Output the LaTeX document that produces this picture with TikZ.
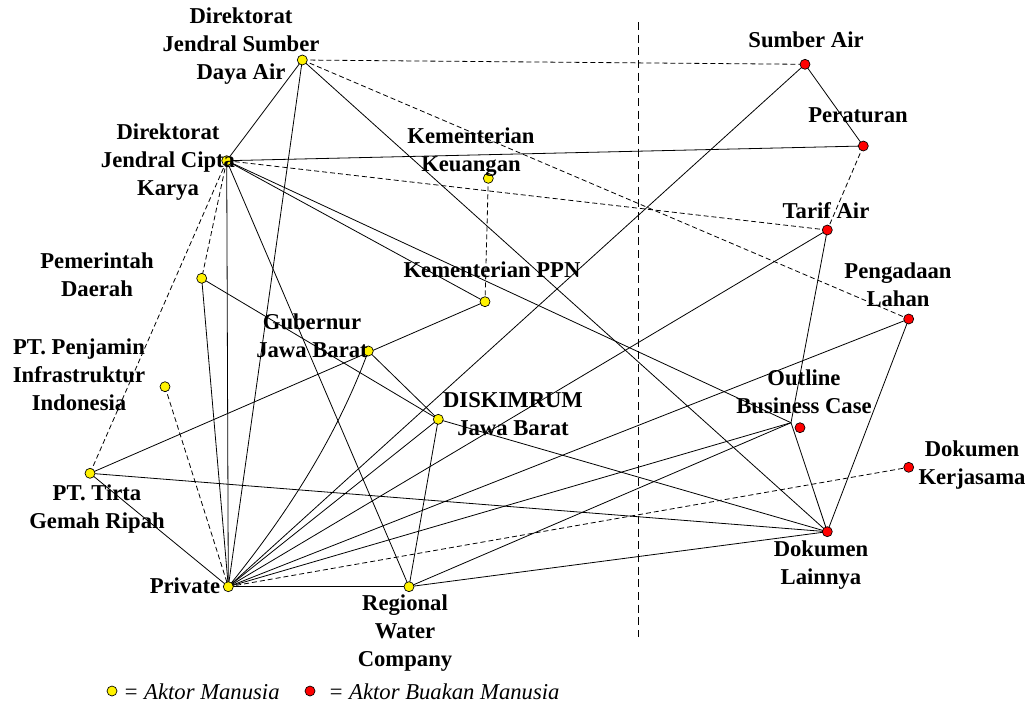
\documentclass[tikz,border=0pt]{standalone}
\usepackage{fontspec}
\setmainfont{Liberation Serif}
\usetikzlibrary{backgrounds}
\begin{document}
\begin{tikzpicture}[x=0.75pt,y=-0.75pt,
  every node/.style={inner sep=0pt},
  lbl/.style={font=\fontsize{17}{21}\selectfont\bfseries, align=center},
  hum/.style={circle, draw=black, line width=0.5pt, fill=yellow, minimum size=7.5pt},
  nonhum/.style={circle, draw=black, line width=0.5pt, fill=red, minimum size=7.5pt},
  link/.style={draw=black, line width=0.6pt},
  weak/.style={link, dash pattern=on 3.75pt off 2.25pt},
  divider/.style={draw=black, line width=0.6pt, dash pattern=on 6pt off 3.5pt},
  legend/.style={font=\fontsize{17}{21}\selectfont\itshape, anchor=west}
]
\useasboundingbox (0,0) rectangle (1030,704);

% human actors
\node[hum] (djsda) at (302.3,60) {};
\node[hum] (djck) at (226.7,160.7) {};
\node[hum] (keu) at (488.3,178.3) {};
\node[hum] (ppn) at (485,301.7) {};
\node[hum] (pemda) at (201.7,278.3) {};
\node[hum] (ptpii) at (165,386.7) {};
\node[hum] (tirta) at (90,473.3) {};
\node[hum] (gub) at (368.3,351) {};
\node[hum] (disk) at (438.3,419.3) {};
\node[hum] (prv) at (228.3,586.7) {};
\node[hum] (rwc) at (409,586.7) {};
% non-human actors
\node[nonhum] (smb) at (805,64.3) {};
\node[nonhum] (prt) at (863.3,146) {};
\node[nonhum] (trf) at (827.3,230) {};
\node[nonhum] (pgl) at (908.7,319) {};
\node[nonhum] (obc) at (800,427.7) {};
\coordinate (obcj) at (791,422.7);
\node[nonhum] (dk) at (908.7,467.3) {};
\node[nonhum] (dl) at (827.3,531.7) {};

% labels
\node[lbl] (l-djsda) at (241,46) {Direktorat\\Jendral Sumber\\Daya Air};
\node[lbl] (l-djck) at (168,162) {Direktorat\\Jendral Cipta\\Karya};
\node[lbl] (l-keu) at (471,152) {Kementerian\\Keuangan};
\node[lbl] (l-pemda) at (97,275) {Pemerintah\\Daerah};
\node[lbl] (l-ptpii) at (79,375) {PT. Penjamin\\Infrastruktur\\Indonesia};
\node[lbl] (l-ppn) at (492,270) {Kementerian PPN};
\node[lbl] (l-gub) at (312,336) {Gubernur\\Jawa Barat};
\node[lbl] (l-disk) at (513,414) {DISKIMRUM\\Jawa Barat};
\node[lbl] (l-tirta) at (97,509) {PT. Tirta\\Gemah Ripah};
\node[lbl] (l-prv) at (185,586) {Private};
\node[lbl] (l-rwc) at (405,633) {Regional\\Water\\Company};
\node[lbl] (l-smb) at (806,40) {Sumber Air};
\node[lbl] (l-prt) at (858,115) {Peraturan};
\node[lbl] (l-trf) at (826,211) {Tarif Air};
\node[lbl] (l-pgl) at (898,285) {Pengadaan\\Lahan};
\node[lbl] (l-obc) at (804,392) {Outline\\Business Case};
\node[lbl] (l-dk) at (972,465) {Dokumen\\Kerjasama};
\node[lbl] (l-dl) at (821,565) {Dokumen\\Lainnya};

% divider
\coordinate (divtop) at (638.3,22);
\coordinate (divbot) at (638.3,637);

% legend
\node[hum] (lg-h) at (112,691) {};
\node[legend] (lg-ht) at (123,692) {= Aktor Manusia};
\node[nonhum] (lg-n) at (310,691) {};
\node[legend] (lg-nt) at (328,692) {= Aktor Buakan Manusia};

\begin{pgfonlayer}{background}
\draw[divider] (divtop) -- (divbot);
\draw[weak] (djsda.center) -- (smb.center);
\draw[weak] (djsda.center) -- (pgl.center);
\draw[link] (djsda.center) -- (djck.center);
\draw[link] (djsda.center) -- (prv.center);
\draw[link] (djsda.center) -- (dl.center);
\draw[link] (djck.center) -- (prt.center);
\draw[weak] (djck.center) -- (trf.center);
\draw[link] (djck.center) -- (ppn.center);
\draw[link] (djck.center) -- (obcj);
\draw[link] (djck.center) -- (prv.center);
\draw[link] (djck.center) -- (rwc.center);
\draw[weak] (djck.center) -- (pemda.center);
\draw[weak] (djck.center) -- (tirta.center);
\draw[weak] (keu.center) -- (ppn.center);
\draw[link] (pemda.center) -- (prv.center);
\draw[link] (pemda.center) -- (disk.center);
\draw[link] (gub.center) -- (disk.center);
\draw[link] (gub.center) .. controls (339.9,428.5) and (293.2,507) .. (prv.center);
\draw[link] (tirta.center) -- (ppn.center);
\draw[link] (tirta.center) -- (dl.center);
\draw[link] (tirta.center) -- (prv.center);
\draw[weak] (ptpii.center) -- (prv.center);
\draw[link] (disk.center) -- (prv.center);
\draw[link] (disk.center) -- (rwc.center);
\draw[link] (disk.center) -- (dl.center);
\draw[link] (prv.center) -- (rwc.center);
\draw[link] (prv.center) -- (smb.center);
\draw[link] (prv.center) -- (trf.center);
\draw[link] (prv.center) -- (pgl.center);
\draw[link] (prv.center) -- (obcj);
\draw[weak] (prv.center) -- (dk.center);
\draw[link] (rwc.center) -- (obcj);
\draw[link] (rwc.center) -- (dl.center);
\draw[link] (smb.center) -- (prt.center);
\draw[weak] (prt.center) -- (trf.center);
\draw[link] (trf.center) -- (obcj);
\draw[link] (obcj) -- (dl.center);
\draw[link] (pgl.center) -- (dl.center);
\end{pgfonlayer}
\end{tikzpicture}
\end{document}
